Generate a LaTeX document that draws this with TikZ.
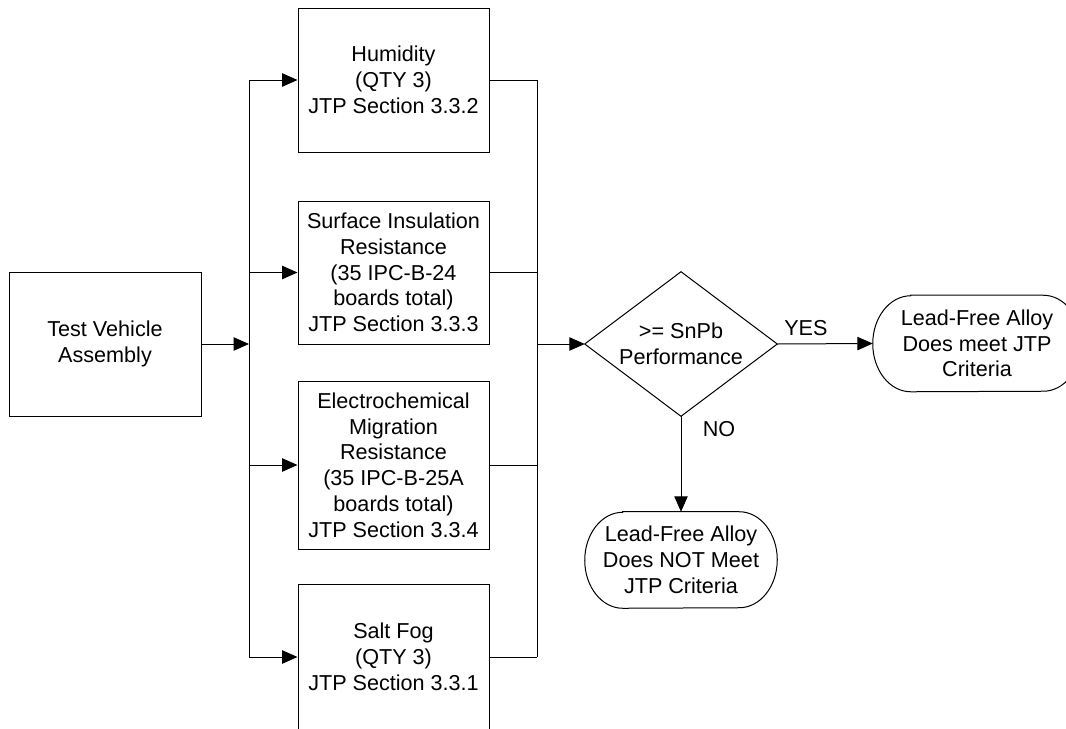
\documentclass[tikz,border=0pt]{standalone}
\usepackage{fontspec}
\setmainfont{Liberation Sans}
\usetikzlibrary{arrows.meta}
\begin{document}
\begin{tikzpicture}[x=0.75pt, y=-0.75pt,
  every node/.style={font=\fontsize{16.2}{19.3}\selectfont, align=center},
  proc/.style={draw=black, line width=0.75pt, inner sep=0pt},
  term/.style={draw=none, inner sep=0pt},
  conn/.style={line width=0.75pt},
  arr/.style={conn, -{Triangle[length=11.5pt, width=10pt]}},
  lbl/.style={inner sep=0pt}
]
\clip (0,0) rectangle (1066,728);

% process boxes
\node[proc, minimum width=144pt, minimum height=108pt] (tva) at (105,344) {Test Vehicle\\Assembly};
\node[proc, minimum width=143.25pt, minimum height=108pt] (hum) at (393.5,80) {Humidity\\(QTY 3)\\JTP Section 3.3.2};
\node[proc, minimum width=143.25pt, minimum height=107.25pt] (sir) at (393.5,272.5) {Surface Insulation\\Resistance\\(35 IPC-B-24\\boards total)\\JTP Section 3.3.3};
\node[proc, minimum width=143.25pt, minimum height=126pt] (ecm) at (393.5,465) {Electrochemical\\Migration\\Resistance\\(35 IPC-B-25A\\boards total)\\JTP Section 3.3.4};
\node[proc, minimum width=143.25pt, minimum height=109.5pt] (salt) at (393.5,657) {Salt Fog\\(QTY 3)\\JTP Section 3.3.1};

% decision
\node[draw=none, minimum width=144pt, minimum height=108pt, inner sep=0pt] (dia) at (681,344) {>= SnPb\\Performance};
\draw[conn] (dia.west) -- (dia.north) -- (dia.east) -- (dia.south) -- cycle;

% terminators
\node[term, minimum width=156pt, minimum height=72pt] (yes) at (977,343.5) {Lead-Free Alloy\\Does meet JTP\\Criteria};
\node[term, minimum width=144pt, minimum height=72pt] (no) at (681,560) {Lead-Free Alloy\\Does NOT Meet\\JTP Criteria};
\foreach \t in {yes,no}{
  \draw[conn] ([xshift=28.5pt]\t.north west) -- ([xshift=-28.5pt]\t.north east)
    arc[start angle=90, end angle=-90, x radius=28.5pt, y radius=36pt]
    -- ([xshift=28.5pt]\t.south west)
    arc[start angle=270, end angle=90, x radius=28.5pt, y radius=36pt] -- cycle;
}

% distribution bus
\coordinate (bl0) at (249,344);
\coordinate (bl1) at (249,80);
\coordinate (bl2) at (249,272.5);
\coordinate (bl3) at (249,465);
\coordinate (bl4) at (249,657);
\draw[conn] (bl1) -- (bl4);
\draw[arr] (tva.east) -- (bl0);
\draw[arr] (bl1) -- (hum.west);
\draw[arr] (bl2) -- (sir.west);
\draw[arr] (bl3) -- (ecm.west);
\draw[arr] (bl4) -- (salt.west);

% collecting bus
\coordinate (br0) at (537,344);
\coordinate (br1) at (537,80);
\coordinate (br2) at (537,272.5);
\coordinate (br3) at (537,465);
\coordinate (br4) at (537,657);
\draw[conn] (br1) -- (br4);
\draw[conn] (hum.east) -- (br1);
\draw[conn] (sir.east) -- (br2);
\draw[conn] (ecm.east) -- (br3);
\draw[conn] (salt.east) -- (br4);
\draw[arr] (br0) -- (dia.west);

% outcomes
\draw[arr] (dia.east) -- node[lbl, pos=0.3, anchor=base, yshift=6pt] {YES} (yes.west);
\draw[arr] (dia.south) -- node[lbl, pos=0.135, anchor=west, xshift=16pt] {NO} (no.north);
\end{tikzpicture}
\end{document}
